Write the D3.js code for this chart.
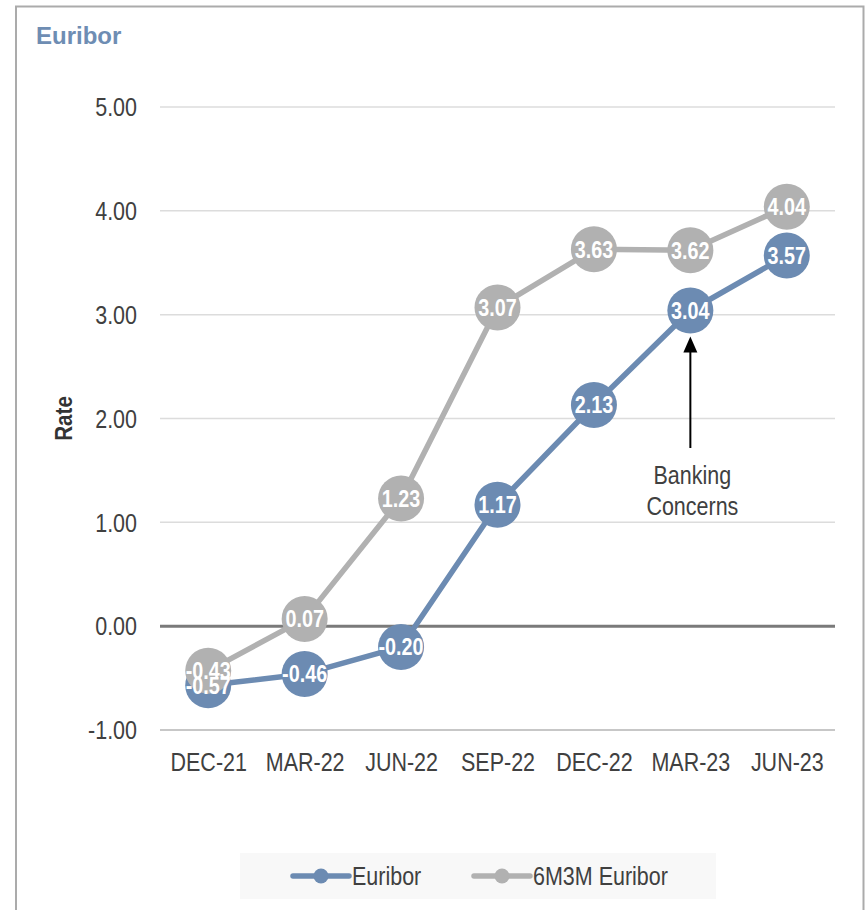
<!DOCTYPE html>
<html>
<head>
<meta charset="utf-8">
<script src="https://cdn.jsdelivr.net/npm/d3@7"></script>
<style>
  html, body { margin: 0; padding: 0; background: #fff; }
  svg { display: block; }
</style>
</head>
<body>
<svg id="chart" width="865" height="910"></svg>
<script>
// Quarter-end observations
const categories = ["DEC-21", "MAR-22", "JUN-22", "SEP-22", "DEC-22", "MAR-23", "JUN-23"];
const euribor = [-0.57, -0.46, -0.20, 1.17, 2.13, 3.04, 3.57];
const euribor6m3m = [-0.43, 0.07, 1.23, 3.07, 3.63, 3.62, 4.04];
const yTicks = [-1, 0, 1, 2, 3, 4, 5];
const seriesNames = ["Euribor", "6M3M Euribor"];
const annotation = { category: "MAR-23", lines: ["Banking", "Concerns"] };

const BLUE = "#6c8bb2";
const GRAY = "#b1b1b1";
const TEXT = "#404040";
const FONT = "'Liberation Sans', Arial, sans-serif";
const SQUEEZE = 0.86; // horizontal condensing for the narrow typeface look

const svg = d3.select("#chart");

// Places a condensed text at (x, y)
function narrowText(parent, x, y, str) {
  return parent.append("text")
    .attr("transform", `translate(${x},${y}) scale(${SQUEEZE},1)`)
    .attr("font-family", FONT)
    .text(str);
}

// Outer frame (open at the bottom)
svg.append("path")
  .attr("d", "M16,910 V6.5 H863.5 V910")
  .attr("fill", "none")
  .attr("stroke", "#ababab")
  .attr("stroke-width", 2);

svg.append("text")
  .attr("x", 36).attr("y", 44)
  .attr("font-family", FONT)
  .attr("font-weight", "bold")
  .attr("font-size", 24)
  .attr("fill", "#6e8db3")
  .text("Euribor");

const plot = { left: 160, right: 835, top: 107, bottom: 730 };

const x = d3.scalePoint().domain(categories).range([plot.left, plot.right]).padding(0.5);
const y = d3.scaleLinear().domain([-1, 5]).range([plot.bottom, plot.top]);

// Gridlines
svg.append("g").selectAll("line").data(yTicks.filter(t => t !== 0 && t !== -1)).join("line")
  .attr("x1", plot.left).attr("x2", plot.right)
  .attr("y1", d => y(d)).attr("y2", d => y(d))
  .attr("stroke", "#dcdcdc").attr("stroke-width", 1.5);

// Bottom axis line and the zero line
svg.append("line")
  .attr("x1", plot.left).attr("x2", plot.right)
  .attr("y1", y(-1)).attr("y2", y(-1))
  .attr("stroke", "#b5b5b5").attr("stroke-width", 1.5);
svg.append("line")
  .attr("x1", plot.left).attr("x2", plot.right)
  .attr("y1", y(0)).attr("y2", y(0))
  .attr("stroke", "#7a7a7a").attr("stroke-width", 3);

// Y axis labels
const yAxis = d3.axisLeft(y).tickValues(yTicks).tickFormat(d => d.toFixed(2)).tickSize(0).tickPadding(0);
const yg = svg.append("g").attr("transform", `translate(${plot.left - 23},0)`).call(yAxis);
yg.select(".domain").remove();
yg.selectAll("text")
  .attr("font-family", FONT).attr("font-size", 25).attr("fill", TEXT).attr("dy", "0.35em")
  .attr("transform", `scale(${SQUEEZE},1)`);

// X axis labels
const xAxis = d3.axisBottom(x).tickSize(0).tickPadding(0);
const xg = svg.append("g").attr("transform", `translate(0,${plot.bottom + 32})`).call(xAxis);
xg.select(".domain").remove();
xg.selectAll("text")
  .attr("font-family", FONT).attr("font-size", 25).attr("fill", TEXT).attr("y", 0).attr("dy", "0.35em")
  .attr("transform", `scale(${SQUEEZE},1)`);

// Axis title
svg.append("text")
  .attr("transform", `translate(72,${y(2)}) rotate(-90) scale(${SQUEEZE},1)`)
  .attr("text-anchor", "middle")
  .attr("font-family", FONT)
  .attr("font-weight", "bold")
  .attr("font-size", 24)
  .attr("fill", "#333")
  .text("Rate");

const series = [
  { name: seriesNames[0], values: euribor, color: BLUE },
  { name: seriesNames[1], values: euribor6m3m, color: GRAY }
];

const line = d3.line().x((d, i) => x(categories[i])).y(d => y(d));

series.forEach(s => {
  const g = svg.append("g");
  g.append("path")
    .attr("d", line(s.values))
    .attr("fill", "none")
    .attr("stroke", s.color)
    .attr("stroke-width", 5.5)
    .attr("stroke-linejoin", "round");
  g.selectAll("circle").data(s.values).join("circle")
    .attr("cx", (d, i) => x(categories[i]))
    .attr("cy", d => y(d))
    .attr("r", 23)
    .attr("fill", s.color);
});

// Data labels on top of markers
series.forEach(s => {
  const g = svg.append("g");
  s.values.forEach((d, i) => {
    narrowText(g, x(categories[i]), y(d), d.toFixed(2))
      .attr("dy", "0.36em")
      .attr("text-anchor", "middle")
      .attr("font-weight", "bold")
      .attr("font-size", 23)
      .attr("fill", "#fff");
  });
});

// Annotation arrow
const ax = x(annotation.category);
const aVal = euribor[categories.indexOf(annotation.category)];
const tipY = y(aVal) + 26;
svg.append("line")
  .attr("x1", ax).attr("x2", ax)
  .attr("y1", 448).attr("y2", tipY + 12)
  .attr("stroke", "#000").attr("stroke-width", 2);
svg.append("path")
  .attr("d", `M${ax},${tipY} L${ax - 7},${tipY + 16} L${ax + 7},${tipY + 16} Z`)
  .attr("fill", "#000");
annotation.lines.forEach((str, i) => {
  narrowText(svg, ax + 2, 484 + i * 31, str)
    .attr("text-anchor", "middle")
    .attr("font-size", 25)
    .attr("fill", TEXT);
});

// Legend
const legend = svg.append("g");
legend.append("rect")
  .attr("x", 240).attr("y", 853).attr("width", 476).attr("height", 46)
  .attr("fill", "#f8f8f8");
const legendItems = [
  { s: series[0], x0: 293 },
  { s: series[1], x0: 474 }
];
legendItems.forEach(({ s, x0 }) => {
  legend.append("line")
    .attr("x1", x0).attr("x2", x0 + 56)
    .attr("y1", 876).attr("y2", 876)
    .attr("stroke", s.color).attr("stroke-width", 5.5)
    .attr("stroke-linecap", "round");
  legend.append("circle")
    .attr("cx", x0 + 28).attr("cy", 876).attr("r", 7.5)
    .attr("fill", s.color);
  narrowText(legend, x0 + 59, 876, s.name)
    .attr("dy", "0.36em")
    .attr("font-size", 25)
    .attr("fill", TEXT);
});
</script>
</body>
</html>
